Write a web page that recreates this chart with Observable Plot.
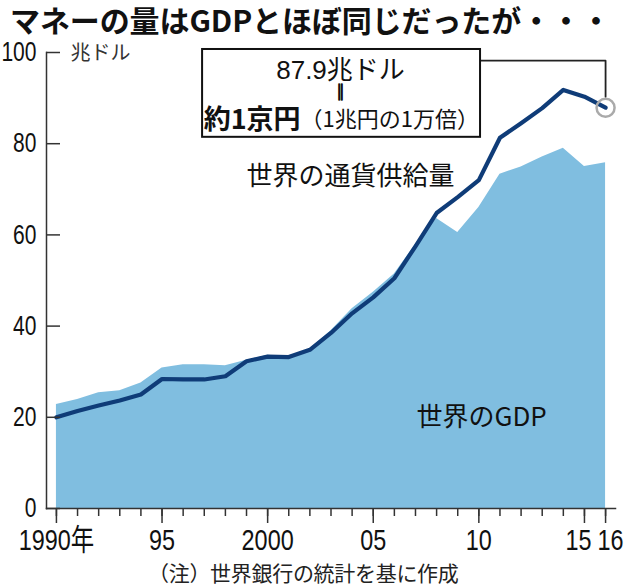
<!DOCTYPE html>
<html><head><meta charset="utf-8">
<script src="https://cdn.jsdelivr.net/npm/d3@7"></script>
<script src="https://cdn.jsdelivr.net/npm/@observablehq/plot@0.6"></script>
<style>
body{margin:0;background:#fff;width:630px;height:588px;overflow:hidden;}
#title{height:40px;line-height:38px;padding-left:10px;font-family:"Noto Sans CJK JP",sans-serif;font-weight:bold;font-size:30px;color:#111;white-space:nowrap;letter-spacing:-0.1px;}
#caption{height:32px;line-height:32px;padding-left:148px;font-family:"Noto Sans CJK JP",sans-serif;font-size:21px;color:#222;white-space:nowrap;letter-spacing:-0.3px;}
svg{display:block;overflow:visible;}
</style></head><body>
<div id="title">マネーの量はGDPとほぼ同じだったが・・・</div>
<div id="chart"></div>
<div id="caption">（注）世界銀行の統計を基に作成</div>
<script>
const years = [1990,1991,1992,1993,1994,1995,1996,1997,1998,1999,2000,2001,2002,2003,2004,2005,2006,2007,2008,2009,2010,2011,2012,2013,2014,2015,2016];
const gdp   = [22.8,23.9,25.4,25.8,27.5,30.8,31.5,31.5,31.3,32.5,33.6,33.3,35.0,39.0,43.8,47.4,51.4,57.9,63.6,60.5,66.0,73.3,74.9,77.1,79.0,75.0,75.8];
const money = [20.0,21.4,22.6,23.7,25.0,28.4,28.3,28.3,29.0,32.3,33.3,33.2,34.8,38.5,42.8,46.3,50.5,57.5,64.8,68.3,72.0,81.3,84.5,87.8,91.8,90.3,87.9];
const yTicks = [0,20,40,60,80,100];
const xMajor = [1990,1995,2000,2005,2010,2015,2016];
const xLabels = ["1990年","95","2000","05","10","15","16"];

const data = years.map((y,i)=>({year:y, gdp:gdp[i], money:money[i]}));
const last = data[data.length-1];
const labelOf = new Map(xMajor.map((d,i)=>[d,xLabels[i]]));
const numFont = '"Liberation Sans","Noto Sans CJK JP",sans-serif';
const jpFont = '"Noto Sans CJK JP",sans-serif';

// annotation box (data units)
const box = {x1:1996.92, x2:2010.08, y1:81.4, y2:100.66};
const leaderY = 98.2;
const boxMid = 2003.45;

const chart = Plot.plot({
  width:630, height:516,
  marginTop:12, marginBottom:48, marginLeft:46, marginRight:15,
  x:{domain:[1989.53,2016.47]},
  y:{domain:[0,100]},
  style:{background:"#fff", overflow:"visible"},
  marks:[
    Plot.areaY(data,{x:"year", y:"gdp", fill:"#80bee0"}),
    Plot.line(data,{x:"year", y:"money", stroke:"#0f3c78", strokeWidth:4.2, strokeLinejoin:"round"}),
    Plot.frame({anchor:"left", stroke:"#333", strokeWidth:1.5}),
    Plot.frame({anchor:"bottom", stroke:"#333", strokeWidth:1.5}),
    Plot.axisY({ticks:yTicks, tickSize:-14, tickFormat:()=>"", stroke:"#333", strokeWidth:1.5}),
    Plot.axisY({ticks:yTicks, tickSize:0, tickPadding:10, fontSize:27, fontFamily:numFont, fill:"#111"}),
    Plot.axisX({ticks:years, tickSize:8, tickFormat:()=>"", stroke:"#333", strokeWidth:1.5}),
    Plot.axisX({ticks:xMajor, tickSize:15, tickFormat:()=>"", stroke:"#333", strokeWidth:1.5}),
    Plot.axisX({ticks:xMajor.slice(0,5), tickSize:0, tickPadding:20, fontSize:30, fontFamily:numFont, fill:"#111", tickFormat:d=>labelOf.get(d)}),
    Plot.axisX({ticks:[2015], tickSize:0, tickPadding:20, dx:-6, fontSize:30, fontFamily:numFont, fill:"#111", tickFormat:d=>labelOf.get(d)}),
    Plot.axisX({ticks:[2016], tickSize:0, tickPadding:20, dx:5, fontSize:30, fontFamily:numFont, fill:"#111", tickFormat:d=>labelOf.get(d)}),
    Plot.text(["兆ドル"],{frameAnchor:"top-left", dx:24, dy:1, textAnchor:"start", lineAnchor:"middle", fontSize:20, fontFamily:jpFont, fill:"#333"}),
    Plot.text(["世界の通貨供給量"],{x:[2003.92], y:[72.8], textAnchor:"middle", lineAnchor:"middle", fontSize:26, fontFamily:jpFont, fill:"#111"}),
    Plot.text(["世界のGDP"],{x:[2010.13], y:[20.0], textAnchor:"middle", lineAnchor:"middle", fontSize:26, fontFamily:jpFont, fill:"#111"}),
    // annotation
    Plot.line([[box.x2,leaderY],[last.year,leaderY],[last.year,last.money+2.4]],{stroke:"#222", strokeWidth:1.8}),
    Plot.rect([box],{x1:"x1", x2:"x2", y1:"y1", y2:"y2", fill:"#fff", stroke:"#111", strokeWidth:2}),
    Plot.text([`${last.money}兆ドル`],{x:[boxMid], y:[96.0], textAnchor:"middle", lineAnchor:"middle", fontSize:26, fontFamily:'"Liberation Sans","Noto Sans CJK JP",sans-serif', fill:"#111"}),
    Plot.text(["‖"],{x:[boxMid], y:[91.1], textAnchor:"middle", lineAnchor:"middle", fontSize:16, fontWeight:"bold", fontFamily:jpFont, fill:"#111", stroke:"#111", strokeWidth:1.3}),
    Plot.text(["約1京円"],{x:[2001.56], y:[85.1], textAnchor:"end", lineAnchor:"middle", fontSize:27, fontWeight:"bold", fontFamily:jpFont, fill:"#111"}),
    Plot.text(["（1兆円の1万倍）"],{x:[2001.56], y:[85.1], textAnchor:"start", lineAnchor:"middle", fontSize:22, fontFamily:jpFont, fill:"#111"}),
    Plot.dot([last],{x:"year", y:"money", r:9, stroke:"#aaa", strokeWidth:2.5, fill:"none"})
  ]
});
document.getElementById("chart").appendChild(chart);
// condense the numeric tick labels like the narrow gothic of the original
chart.querySelectorAll('g[aria-label="x-axis tick label"] text, g[aria-label="y-axis tick label"] text').forEach(t=>{
  const w = t.getComputedTextLength();
  if (w > 0) {
    t.setAttribute("textLength", (w*0.78).toFixed(1));
    t.setAttribute("lengthAdjust","spacingAndGlyphs");
  }
});
</script>
</body></html>
